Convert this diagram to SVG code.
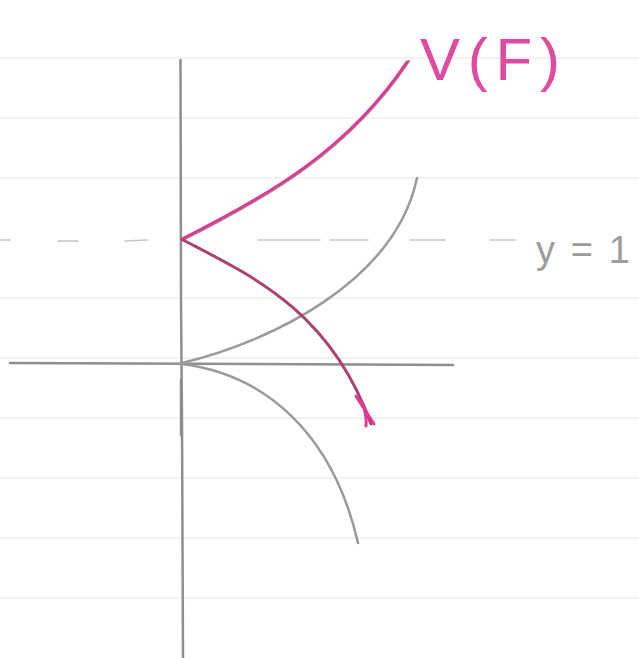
<svg xmlns="http://www.w3.org/2000/svg" width="639" height="658" viewBox="0 0 639 658">
<style>
.rule{stroke:#eeeef2;stroke-width:1.5}
.axis{stroke:#8e8e8e;stroke-width:2.5;fill:none;stroke-linecap:round}
.dash{stroke:#c4c4c4;stroke-width:1.6;stroke-linecap:round}
.gray{stroke:#9a9a9a;stroke-width:2.5;fill:none;stroke-linecap:round}
.pink{stroke:#de3a95;stroke-width:3;fill:none;stroke-linecap:round}
.plum{stroke:#a8446f;stroke-width:3;fill:none;stroke-linecap:round}
</style>
<rect width="639" height="658" fill="#ffffff"/>
<g id="paper">
<line class="rule" x1="0" y1="58" x2="639" y2="58"/>
<line class="rule" x1="0" y1="118" x2="639" y2="118"/>
<line class="rule" x1="0" y1="178" x2="639" y2="178"/>
<line class="rule" x1="0" y1="298" x2="639" y2="298"/>
<line class="rule" x1="0" y1="358" x2="639" y2="358"/>
<line class="rule" x1="0" y1="418" x2="639" y2="418"/>
<line class="rule" x1="0" y1="478" x2="639" y2="478"/>
<line class="rule" x1="0" y1="538" x2="639" y2="538"/>
<line class="rule" x1="0" y1="598" x2="639" y2="598"/>
</g>
<g id="axes">
<path class="axis" d="M180.5,60 L181,300 L182,420 L183,658"/>
<path class="axis" d="M10,363 L453,365"/>
<path class="axis" d="M181,380 L181,435" stroke-width="4"/>
</g>
<g id="asymptote">
<line class="dash" x1="0" y1="240" x2="10" y2="240"/>
<line class="dash" x1="58" y1="241" x2="78" y2="241"/>
<line class="dash" x1="125" y1="241" x2="147" y2="240"/>
<line class="dash" x1="258" y1="240" x2="320" y2="240"/>
<line class="dash" x1="330" y1="240" x2="368" y2="240"/>
<line class="dash" x1="410" y1="240" x2="445" y2="240"/>
<line class="dash" x1="490" y1="240" x2="515" y2="240"/>
</g>
<g id="curves">
<path class="gray" d="M182,363 C270,342 395,282 417,178"/>
<path class="gray" d="M182,364 C262,374 332,430 358,543"/>
<path class="gray" d="M183,240 C270,196 350,150 409,61"/>
<path class="pink" d="M182,239 C268,196 348,150 407,62"/>
<path class="plum" d="M183,240 C250,275 330,310 371,424"/>
<path class="pink" stroke-width="2" d="M356,396 C362,406 368,414 374,424 M362,402 C365,410 367,418 366,426"/>
</g>
<g id="labels">
<text x="420" y="80" font-family="Liberation Sans, sans-serif" font-size="60" textLength="140" lengthAdjust="spacing" fill="#e04aa0">V(F)</text>
<text x="536" y="263" font-family="Liberation Sans, sans-serif" font-size="38" textLength="94" lengthAdjust="spacing" fill="#9c9c9c">y = 1</text>
</g>
</svg>
